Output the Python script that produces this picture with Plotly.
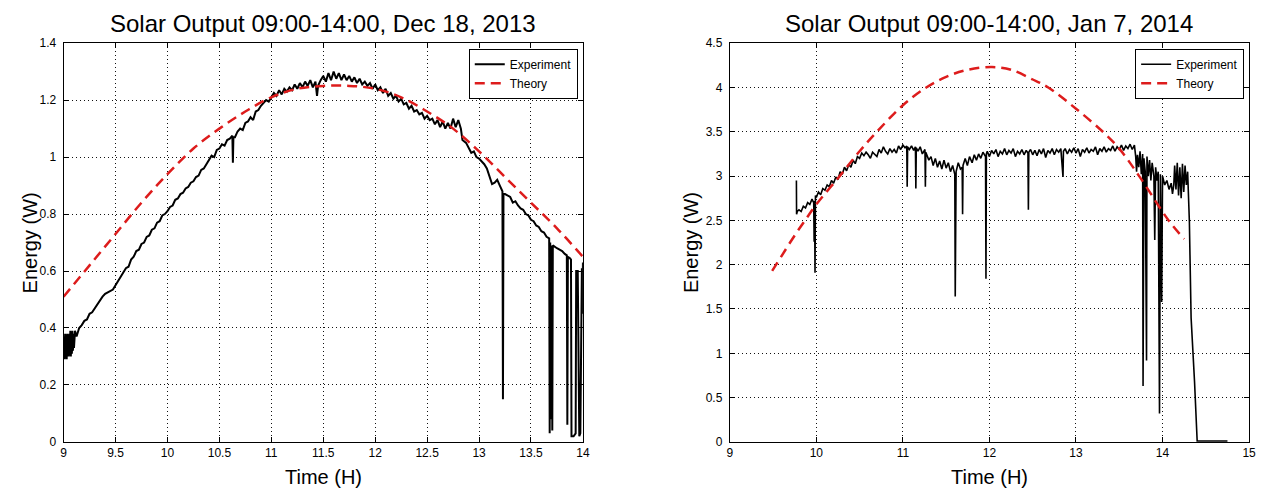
import plotly.graph_objects as go

# ---------------- Left chart: Dec 18, 2013 ----------------
dec_time = [9.000, 9.005, 9.010, 9.015, 9.020, 9.025, 9.030, 9.035, 9.040, 9.045, 9.050,
            9.055, 9.060, 9.065, 9.070, 9.075, 9.080, 9.085, 9.090, 9.095, 9.100, 9.11, 9.125,
            9.15, 9.175, 9.20, 9.225, 9.25, 9.275, 9.30, 9.325, 9.35, 9.375, 9.40, 9.425,
            9.45, 9.475, 9.50, 9.525, 9.55, 9.575, 9.60, 9.625, 9.65, 9.675, 9.70, 9.725,
            9.75, 9.775, 9.80, 9.825, 9.85, 9.875, 9.90, 9.925, 9.95, 9.975, 10.00, 10.025,
            10.05, 10.075, 10.10, 10.125, 10.15, 10.175, 10.20, 10.225, 10.25, 10.275, 10.30,
            10.325, 10.35, 10.375, 10.40, 10.425, 10.45, 10.475, 10.50, 10.525, 10.55, 10.575,
            10.60, 10.625, 10.63, 10.635, 10.65, 10.675, 10.70, 10.725, 10.75, 10.775, 10.80,
            10.825, 10.85, 10.875, 10.90, 10.925, 10.95, 10.975, 11.00, 11.025, 11.05, 11.075,
            11.10, 11.125, 11.15, 11.175, 11.20, 11.225, 11.25, 11.275, 11.30, 11.325, 11.35,
            11.375, 11.40, 11.425, 11.44, 11.45, 11.475, 11.50, 11.525, 11.55, 11.575, 11.60,
            11.625, 11.65, 11.675, 11.70, 11.725, 11.75, 11.775, 11.80, 11.825, 11.85, 11.875,
            11.90, 11.925, 11.95, 11.975, 12.00, 12.025, 12.05, 12.075, 12.10, 12.125, 12.15,
            12.175, 12.20, 12.225, 12.25, 12.275, 12.30, 12.325, 12.35, 12.375, 12.40, 12.425,
            12.45, 12.475, 12.50, 12.525, 12.55, 12.575, 12.60, 12.625, 12.65, 12.675, 12.70,
            12.725, 12.75, 12.775, 12.80, 12.825, 12.84, 12.875, 12.90, 12.925, 12.95, 12.975,
            13.00, 13.025, 13.05, 13.075, 13.10, 13.125, 13.15, 13.175, 13.20, 13.215, 13.225,
            13.23, 13.235, 13.25, 13.275, 13.30, 13.325, 13.35, 13.375, 13.40, 13.425, 13.45,
            13.475, 13.50, 13.525, 13.55, 13.575, 13.60, 13.625, 13.65, 13.675, 13.68, 13.685,
            13.69, 13.70, 13.705, 13.71, 13.725, 13.75, 13.775, 13.80, 13.825, 13.845, 13.85,
            13.855, 13.875, 13.885, 13.89, 13.91, 13.93, 13.935, 13.95, 13.965, 13.975, 13.99,
            13.995, 14.00]
dec_power = [0.30, 0.37, 0.29, 0.38, 0.30, 0.36, 0.29, 0.38, 0.31, 0.37, 0.30,
             0.38, 0.31, 0.39, 0.30, 0.38, 0.31, 0.39, 0.32, 0.38, 0.33, 0.39, 0.37,
             0.40, 0.41, 0.425, 0.43, 0.45, 0.455, 0.47, 0.48, 0.50, 0.51, 0.52, 0.525,
             0.53, 0.535, 0.55, 0.565, 0.58, 0.59, 0.61, 0.615, 0.64, 0.65, 0.67, 0.675,
             0.695, 0.70, 0.72, 0.725, 0.745, 0.75, 0.77, 0.775, 0.795, 0.80, 0.81, 0.825,
             0.83, 0.85, 0.855, 0.87, 0.875, 0.89, 0.895, 0.91, 0.915, 0.93, 0.935,
             0.955, 0.96, 0.975, 0.99, 1.005, 1.00, 1.025, 1.03, 1.045, 1.04, 1.06,
             1.065, 1.075, 0.98, 1.07, 1.07, 1.09, 1.10, 1.095, 1.12, 1.125, 1.14,
             1.13, 1.16, 1.165, 1.18, 1.19, 1.20, 1.195, 1.21, 1.225, 1.215, 1.235,
             1.22, 1.24, 1.23, 1.245, 1.235, 1.255, 1.24, 1.26, 1.245, 1.265, 1.25,
             1.27, 1.245, 1.265, 1.215, 1.25, 1.27, 1.285, 1.265, 1.295, 1.27, 1.30,
             1.275, 1.295, 1.27, 1.29, 1.27, 1.285, 1.265, 1.28, 1.26, 1.275, 1.255,
             1.265, 1.25, 1.26, 1.24, 1.255, 1.235, 1.245, 1.225, 1.24, 1.215, 1.225,
             1.205, 1.215, 1.195, 1.205, 1.185, 1.19, 1.17, 1.18, 1.16, 1.165, 1.15,
             1.155, 1.135, 1.145, 1.13, 1.135, 1.115, 1.13, 1.105, 1.125, 1.10, 1.12,
             1.10, 1.135, 1.105, 1.13, 1.10, 1.06, 1.05, 1.03, 1.015, 1.02, 1.00,
             0.995, 0.985, 0.975, 0.96, 0.935, 0.905, 0.91, 0.92, 0.90, 0.89, 0.88,
             0.15, 0.87, 0.87, 0.865, 0.86, 0.84, 0.845, 0.83, 0.82, 0.815, 0.80,
             0.795, 0.78, 0.775, 0.76, 0.755, 0.74, 0.735, 0.72, 0.715, 0.03, 0.70,
             0.08, 0.69, 0.04, 0.69, 0.685, 0.68, 0.675, 0.67, 0.66, 0.655, 0.06,
             0.65, 0.645, 0.64, 0.02, 0.02, 0.03, 0.60, 0.60, 0.02, 0.03, 0.61,
             0.45, 0.63]

dec_theory_time = [9.00, 9.25, 9.50, 9.75, 10.00, 10.25, 10.50, 10.75, 11.00, 11.25, 11.50,
                   11.75, 12.00, 12.25, 12.50, 12.75, 13.00, 13.25, 13.50, 13.75, 14.00]
dec_theory = [0.51, 0.62, 0.73, 0.84, 0.94, 1.03, 1.10, 1.16, 1.21, 1.24, 1.25,
              1.25, 1.24, 1.21, 1.16, 1.10, 1.02, 0.93, 0.84, 0.75, 0.65]

# ---------------- Right chart: Jan 7, 2014 ----------------
jan_time = [9.770, 9.772, 9.78, 9.80, 9.825, 9.85, 9.875, 9.90, 9.925, 9.95, 9.97, 9.975,
            9.98, 9.985, 9.99, 10.00, 10.025, 10.05, 10.075, 10.10, 10.125, 10.15, 10.175,
            10.20, 10.225, 10.25, 10.275, 10.30, 10.325, 10.35, 10.375, 10.40, 10.425, 10.45,
            10.475, 10.50, 10.525, 10.55, 10.575, 10.60, 10.625, 10.65, 10.675, 10.70, 10.725,
            10.75, 10.775, 10.80, 10.825, 10.85, 10.875, 10.90, 10.925, 10.95, 10.975, 11.00,
            11.025, 11.045, 11.05, 11.055, 11.075, 11.10, 11.125, 11.145, 11.15, 11.155,
            11.175, 11.20, 11.225, 11.255, 11.26, 11.265, 11.30, 11.325, 11.35, 11.375,
            11.40, 11.425, 11.45, 11.475, 11.50, 11.525, 11.55, 11.575, 11.60, 11.605,
            11.615, 11.64, 11.665, 11.685, 11.69, 11.695, 11.72, 11.745, 11.77, 11.80,
            11.825, 11.85, 11.875, 11.90, 11.925, 11.955, 11.96, 11.965, 11.975, 12.00,
            12.025, 12.05, 12.075, 12.10, 12.125, 12.15, 12.175, 12.20, 12.225, 12.25,
            12.275, 12.30, 12.325, 12.35, 12.375, 12.40, 12.425, 12.445, 12.45, 12.455,
            12.475, 12.50, 12.525, 12.55, 12.575, 12.60, 12.625, 12.65, 12.675, 12.70,
            12.725, 12.75, 12.775, 12.80, 12.825, 12.85, 12.855, 12.875, 12.90, 12.925,
            12.95, 12.975, 13.00, 13.025, 13.05, 13.075, 13.10, 13.125, 13.15, 13.175,
            13.20, 13.225, 13.25, 13.275, 13.30, 13.325, 13.35, 13.375, 13.40, 13.425,
            13.45, 13.475, 13.50, 13.525, 13.55, 13.575, 13.60, 13.625, 13.65, 13.675,
            13.69, 13.70, 13.71, 13.725, 13.74, 13.755, 13.77, 13.775, 13.785, 13.80,
            13.815, 13.82, 13.835, 13.85, 13.865, 13.88, 13.90, 13.91, 13.92, 13.935,
            13.95, 13.965, 13.975, 13.99, 14.00, 14.025, 14.05, 14.075, 14.10, 14.115,
            14.13, 14.14, 14.155, 14.17, 14.185, 14.20, 14.215, 14.23, 14.245, 14.26,
            14.275, 14.29, 14.31, 14.33, 14.37, 14.40, 14.75]
jan_power = [2.95, 2.57, 2.60, 2.62, 2.60, 2.66, 2.64, 2.70, 2.68, 2.74, 2.70, 2.26,
             2.72, 1.91, 2.78, 2.76, 2.82, 2.79, 2.86, 2.84, 2.90, 2.88, 2.95,
             2.92, 2.99, 2.96, 3.05, 3.02, 3.10, 3.06, 3.13, 3.10, 3.18, 3.14,
             3.22, 3.20, 3.26, 3.23, 3.27, 3.24, 3.20, 3.27, 3.25, 3.22, 3.30,
             3.26, 3.33, 3.28, 3.25, 3.31, 3.27, 3.30, 3.26, 3.34, 3.30, 3.35,
             3.32, 3.34, 2.88, 3.33, 3.30, 3.34, 3.29, 3.33, 2.86, 3.32,
             3.28, 3.33, 3.25, 3.30, 2.88, 3.27, 3.18, 3.22, 3.12, 3.20,
             3.10, 3.17, 3.08, 3.18, 3.09, 3.15, 3.05, 3.12, 3.02, 1.64,
             3.05, 3.15, 3.08, 3.10, 2.57, 3.12, 3.20, 3.12, 3.22, 3.15,
             3.24, 3.18, 3.25, 3.20, 3.27, 3.22, 1.84, 3.25, 3.28, 3.22,
             3.29, 3.25, 3.30, 3.22, 3.28, 3.25, 3.31, 3.24, 3.29, 3.26,
             3.31, 3.22, 3.28, 3.25, 3.30, 3.24, 3.29, 3.26, 2.62, 3.27,
             3.30, 3.24, 3.29, 3.23, 3.30, 3.25, 3.31, 3.21, 3.29, 3.26,
             3.31, 3.24, 3.30, 3.27, 3.31, 2.99, 3.28, 3.31, 3.25, 3.30,
             3.27, 3.32, 3.26, 3.31, 3.22, 3.30, 3.27, 3.32, 3.26, 3.30,
             3.28, 3.33, 3.24, 3.31, 3.28, 3.33, 3.27, 3.31, 3.29, 3.34,
             3.28, 3.33, 3.30, 3.35, 3.29, 3.34, 3.31, 3.36, 3.30, 3.35,
             3.22, 3.05, 3.24, 3.10, 3.28, 3.02, 3.25, 0.63, 3.20, 3.05,
             0.92, 3.22, 3.00, 3.18, 2.95, 3.15, 3.00, 2.28, 3.10, 2.95,
             3.05, 0.32, 3.02, 1.58, 3.00, 2.90, 2.95, 2.85, 2.92, 2.80,
             2.90, 3.12, 2.85, 3.15, 2.78, 3.10, 2.75, 3.14, 2.82, 3.12,
             2.90, 3.05, 2.49, 1.40, 0.67, 0.01, 0.01]

jan_theory_time = [9.49, 9.60, 9.75, 9.87, 10.00, 10.27, 10.50, 10.70, 11.00, 11.27, 11.50,
                   11.75, 12.03, 12.25, 12.50, 12.68, 13.00, 13.31, 13.50, 13.73, 14.07, 14.25]
jan_theory = [1.93, 2.10, 2.33, 2.50, 2.68, 3.00, 3.28, 3.50, 3.80, 4.00, 4.12,
              4.20, 4.23, 4.20, 4.09, 4.00, 3.76, 3.50, 3.31, 3.00, 2.50, 2.29]

titles = ["Solar Output 09:00-14:00, Dec 18, 2013", "Solar Output 09:00-14:00, Jan 7, 2014"]
x_label = "Time (H)"
y_label = "Energy (W)"

FONT = "Liberation Sans, Arial, Helvetica, sans-serif"
EXP_COLOR = "#000000"
TH_COLOR = "#dd1c1c"

# the page body adds an 8px offset, so the figure is sized to fit the window
W, H = 1261, 489
left_dom = [53 / W, 576.5 / W]
right_dom = [724.5 / W, 1248 / W]
y_dom = [49.5 / H, 460 / H]

fig = go.Figure()

fig.add_trace(go.Scatter(x=dec_time, y=dec_power, mode="lines", name="Experiment",
                         line=dict(color=EXP_COLOR, width=2.0), xaxis="x", yaxis="y",
                         legend="legend"))
fig.add_trace(go.Scatter(x=dec_theory_time, y=dec_theory, mode="lines", name="Theory",
                         line=dict(color=TH_COLOR, width=2.5, dash="10px,6px", shape="spline"),
                         xaxis="x", yaxis="y", legend="legend"))
fig.add_trace(go.Scatter(x=jan_time, y=jan_power, mode="lines", name="Experiment",
                         line=dict(color=EXP_COLOR, width=1.6), xaxis="x2", yaxis="y2",
                         legend="legend2"))
fig.add_trace(go.Scatter(x=jan_theory_time, y=jan_theory, mode="lines", name="Theory",
                         line=dict(color=TH_COLOR, width=2.5, dash="10px,6px", shape="spline"),
                         xaxis="x2", yaxis="y2", legend="legend2"))

axis_common = dict(
    showline=True, linecolor="#000", linewidth=1, mirror="ticks",
    ticks="inside", ticklen=5, tickcolor="#000",
    showgrid=True, gridcolor="#111", griddash="1px,3px", gridwidth=1,
    zeroline=False, tickfont=dict(family=FONT, size=12, color="#000"),
)

legend_common = dict(xanchor="right", y=(H - 34.7) / H, yanchor="top",
                     bgcolor="white", bordercolor="#000", borderwidth=1,
                     font=dict(family=FONT, size=12, color="#000"), tracegroupgap=0)

fig.update_layout(
    width=W, height=H,
    margin=dict(l=0, r=0, t=0, b=0),
    paper_bgcolor="white", plot_bgcolor="white",
    font=dict(family=FONT, color="#000"),
    xaxis=dict(domain=left_dom, range=[9, 14], tickvals=[9, 9.5, 10, 10.5, 11, 11.5, 12, 12.5, 13, 13.5, 14],
               anchor="y", **axis_common),
    yaxis=dict(domain=y_dom, range=[0, 1.4], tickvals=[0, 0.2, 0.4, 0.6, 0.8, 1, 1.2, 1.4],
               anchor="x", ticklabelstandoff=4, **axis_common),
    xaxis2=dict(domain=right_dom, range=[9, 15], tickvals=[9, 10, 11, 12, 13, 14, 15],
                anchor="y2", **axis_common),
    yaxis2=dict(domain=y_dom, range=[0, 4.5], tickvals=[0, 0.5, 1, 1.5, 2, 2.5, 3, 3.5, 4, 4.5],
                anchor="x2", ticklabelstandoff=4, **axis_common),
    legend=dict(x=571.3 / W, **legend_common),
    legend2=dict(x=1243 / W, **legend_common),
    showlegend=True,
)

annotations = []
centers = [(left_dom[0] + left_dom[1]) / 2, (right_dom[0] + right_dom[1]) / 2]
for cx, title in zip(centers, titles):
    annotations.append(dict(text=title, x=cx, y=(H - 9) / H, xref="paper", yref="paper",
                            xanchor="center", yanchor="middle", showarrow=False,
                            font=dict(family=FONT, size=24, color="#000")))
    annotations.append(dict(text=x_label, x=cx, y=(H - 475.5) / H, xref="paper", yref="paper",
                            xanchor="center", yanchor="middle", showarrow=False,
                            font=dict(family=FONT, size=20, color="#000")))
for xc in [19 / W, 685 / W]:
    annotations.append(dict(text=y_label, x=xc, y=(y_dom[0] + y_dom[1]) / 2, xref="paper",
                            yref="paper", xanchor="center", yanchor="middle", textangle=-90,
                            showarrow=False, font=dict(family=FONT, size=20, color="#000")))
fig.update_layout(annotations=annotations)

fig.write_html("out.html")
